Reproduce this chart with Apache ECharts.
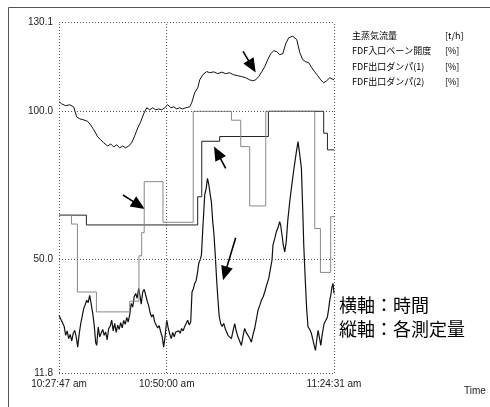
<!DOCTYPE html>
<html>
<head>
<meta charset="utf-8">
<script src="https://cdn.jsdelivr.net/npm/echarts@6/dist/echarts.min.js"></script>
<style>
  html, body { margin: 0; padding: 0; background: #fff; }
  #chart { width: 490px; height: 407px; }
</style>
</head>
<body>
<div id="chart"></div>
<script>
// Time axis: minutes elapsed since 10:27:47
const xTicks = [0, 22.2167, 56.7333];
const xTickLabels = ['10:27:47 am', '10:50:00 am', '11:24:31 am'];
const yTicks = [11.8, 50.0, 100.0, 130.1];
const yTickLabels = ['11.8', '50.0', '100.0', '130.1'];

const seriesNames = ['主蒸気流量', 'FDF入口ベーン開度', 'FDF出口ダンパ(1)', 'FDF出口ダンパ(2)'];
const seriesUnits = ['[t/h]', '[%]', '[%]', '[%]'];

// [minutes, value]
const steamFlow = [
  [0,103.3],[0.56,102.5],[1.38,101.9],[2.21,102.2],[3.03,101.5],[3.65,98.1],[4.27,97.5],[5.1,97.1],
  [5.92,96.6],[6.54,95.4],[7.17,93.8],[7.98,91.4],[8.6,90.4],[9.22,89.4],[10.05,88.3],[10.67,89.0],
  [11.28,88.0],[11.9,88.7],[12.52,87.7],[13.14,88.3],[13.76,87.7],[14.38,88.3],[14.99,89.4],[15.61,91.7],
  [16.24,94.4],[16.86,96.5],[17.48,99.2],[18.1,101.2],[18.71,100.5],[19.33,101.2],[19.95,100.5],[20.57,100.8],
  [21.19,100.5],[21.81,101.2],[22.43,102.2],[23.05,101.2],[23.66,101.5],[24.28,100.8],[24.9,101.2],[25.52,100.8],
  [26.14,101.2],[26.96,101.5],[27.38,102.9],[28.0,106.3],[28.62,107.9],[29.03,110.6],[29.65,112.3],[30.48,113.4],
  [31.1,113.0],[31.92,113.3],[32.75,112.7],[33.57,113.2],[34.4,112.7],[35.22,113.0],[36.04,112.3],[36.87,112.0],
  [37.69,111.7],[38.52,111.3],[39.34,110.6],[39.96,110.3],[40.58,110.6],[41.2,111.7],[41.82,113.3],[42.44,115.0],
  [43.06,117.4],[43.68,119.4],[44.3,120.4],[44.92,120.1],[45.54,119.1],[46.16,119.4],[46.78,122.8],[47.39,124.8],
  [48.22,125.3],[49.05,124.2],[49.67,119.8],[50.28,117.4],[50.9,116.7],[51.52,116.4],[52.14,114.7],[52.76,113.3],
  [53.38,112.0],[54.0,110.6],[54.61,109.6],[55.23,110.3],[55.85,111.3],[56.73,110.6]
];

const inletVane = [
  [0,31.3],[0.35,30.0],[0.76,30.1],[1.07,27.5],[1.38,24.5],[1.69,26.0],[2.0,23.4],[2.31,24.8],[2.62,22.6],
  [2.93,25.1],[3.24,26.2],[3.55,24.0],[3.86,20.5],[4.17,25.0],[4.48,28.4],[4.79,31.0],[5.1,33.5],[5.4,34.8],
  [5.71,36.3],[6.02,35.5],[6.33,38.0],[6.64,35.0],[6.95,32.0],[7.26,28.0],[7.57,22.0],[7.78,21.1],[8.09,27.3],
  [8.4,24.0],[8.71,23.4],[9.02,26.5],[9.32,24.5],[9.63,25.6],[9.94,23.0],[10.25,26.8],[10.56,27.5],[10.87,29.6],
  [11.18,26.0],[11.49,28.5],[11.8,25.5],[12.11,27.9],[12.42,26.5],[12.73,28.8],[13.04,27.0],[13.35,29.5],
  [13.66,28.2],[13.97,30.5],[14.28,29.0],[14.59,31.5],[14.9,35.2],[15.2,34.0],[15.51,37.5],[15.82,38.6],
  [16.13,37.0],[16.44,40.3],[16.75,37.5],[16.96,35.0],[17.27,39.1],[17.58,40.0],[17.89,38.0],[18.2,36.0],
  [18.5,34.5],[18.81,32.0],[19.12,30.7],[19.43,31.5],[19.74,29.0],[20.05,28.4],[20.36,27.0],[20.67,27.8],
  [20.98,25.6],[21.29,24.0],[21.6,20.5],[21.91,24.5],[22.22,29.6],[22.53,27.0],[22.84,25.0],[23.15,23.4],
  [23.46,25.5],[23.77,24.0],[24.07,25.6],[24.38,25.0],[24.69,26.0],[25.0,25.2],[25.31,26.8],[25.62,26.0],
  [25.93,27.5],[26.24,27.0],[26.55,29.6],[26.86,28.0],[27.17,29.0],[27.44,39.1],[27.69,40.0],[28.0,42.0],
  [28.3,43.0],[28.61,46.0],[28.82,48.7],[29.13,50.0],[29.38,51.5],[29.65,60.0],[29.86,66.0],[30.06,71.8],
  [30.37,74.0],[30.62,77.4],[30.89,75.5],[31.19,72.0],[31.44,69.5],[31.71,63.0],[31.98,58.3],[32.22,52.0],
  [32.53,43.0],[32.8,36.3],[33.05,31.0],[33.36,28.4],[33.67,27.5],[33.98,28.5],[34.29,26.8],[34.6,25.5],
  [34.86,24.5],[35.21,24.0],[35.57,23.4],[35.83,25.5],[36.25,28.4],[36.56,26.0],[36.93,23.9],[37.28,22.5],
  [37.63,21.1],[38.0,24.5],[38.31,26.8],[38.62,25.5],[38.99,25.1],[39.34,23.5],[39.69,22.2],[40.06,25.0],
  [40.37,26.8],[40.68,29.5],[41.05,32.9],[41.4,34.5],[41.75,36.3],[42.13,37.5],[42.44,39.1],[42.85,41.5],
  [43.26,43.6],[43.57,46.5],[43.94,49.8],[44.14,54.9],[44.49,57.0],[44.84,59.4],[45.22,61.0],[45.53,62.8],
  [45.74,61.5],[46.01,58.3],[46.26,55.0],[46.57,52.6],[46.88,56.0],[47.19,63.0],[47.6,69.5],[48.01,75.0],
  [48.48,80.8],[48.94,86.0],[49.31,89.8],[49.66,85.5],[50.01,80.8],[50.18,72.0],[50.34,63.9],[50.49,55.0],
  [50.63,49.8],[50.84,42.0],[51.11,33.0],[51.38,27.3],[51.73,26.5],[52.08,25.1],[52.41,22.8],[52.66,21.0],
  [52.91,19.4],[53.18,23.0],[53.45,26.2],[53.7,24.0],[54.01,21.1],[54.32,25.0],[54.69,28.4],[55.03,29.5],
  [55.38,30.7],[55.64,33.5],[55.85,36.3],[56.06,38.0],[56.32,40.8],[56.53,42.0],[56.73,38.6]
];

// Damper positions: value holds until the next change
const damper1 = [
  [0,65.0],[5.65,61.7],[28.61,71.2],[29.45,89.9],[33.15,91.5],[43.2,100.0],[54.61,92.6],[55.38,87.0],[56.73,87.0]
];
const damper2 = [
  [0,65.0],[2.56,62.0],[3.8,39.1],[7.72,32.4],[14.59,36.0],[16.5,51.3],[17.06,59.1],[17.58,76.3],[21.45,62.6],
  [27.69,100.0],[35.57,97.0],[37.49,88.1],[39.34,68.1],[42.65,100.0],[52.76,60.5],[53.93,45.7],[56.05,64.5],[56.73,64.5]
];

// Annotation arrows: [tail minutes, tail value, tip minutes, tip value]
const arrowNotes = [
  [37.96, 120.2, 40.58, 113.1],
  [13.2, 71.8, 17.68, 67.1],
  [34.39, 80.8, 31.98, 88.1],
  [36.45, 57.4, 33.83, 43.1]
];

const noteLines = ['横軸：時間', '縦軸：各測定量'];

const labelFont = 'Liberation Sans, Arial, sans-serif';
const cjkFont = '"Noto Sans CJK JP", sans-serif';

const chart = echarts.init(document.getElementById('chart'), null, { renderer: 'canvas' });

const gridLines = [
  ...yTicks.map(v => ({ yAxis: v })),
  ...xTicks.map(v => ({ xAxis: v }))
];

const baseGraphic = [
  { id: 'frame', type: 'rect', left: 6, top: 5, silent: true,
    shape: { x: 0, y: 0, width: 500, height: 420 },
    style: { fill: 'none', stroke: '#555', lineWidth: 1 } },
  { id: 'note0', type: 'text', left: 339, top: 296,
    style: { text: noteLines[0], font: '18px ' + cjkFont, fill: '#000' } },
  { id: 'note1', type: 'text', left: 339, top: 320,
    style: { text: noteLines[1], font: '18px ' + cjkFont, fill: '#000' } },
  { id: 'timeName', type: 'text', left: 464, top: 386,
    style: { text: 'Time', font: '10px ' + labelFont, fill: '#222' } }
];

function lineSeries(name, data, color, stepped, width, extra) {
  return Object.assign({
    name: name,
    type: 'line',
    data: data,
    step: stepped ? 'end' : false,
    showSymbol: false,
    symbol: 'none',
    lineStyle: { color: color, width: width },
    itemStyle: { color: color },
    animation: false,
    z: 3
  }, extra || {});
}

chart.setOption({
  animation: false,
  backgroundColor: '#fff',
  grid: { left: 59, right: 156, top: 22, bottom: 34, containLabel: false },
  legend: {
    orient: 'vertical',
    left: 341,
    top: 26,
    itemWidth: 0,
    itemHeight: 0,
    itemGap: 6.5,
    selectedMode: false,
    data: seriesNames,
    formatter: name => '{n|' + name + '}{u|' + seriesUnits[seriesNames.indexOf(name)] + '}',
    textStyle: {
      fontFamily: cjkFont,
      fontSize: 9,
      color: '#000',
      rich: {
        n: { width: 93, fontSize: 9, fontFamily: cjkFont, color: '#000' },
        u: { fontSize: 9, fontFamily: cjkFont, color: '#000' }
      }
    }
  },
  xAxis: {
    type: 'value',
    min: 0,
    max: xTicks[2],
    axisLine: { show: false },
    axisTick: { show: false },
    splitLine: { show: false },
    axisLabel: {
      customValues: xTicks,
      margin: 6,
      fontFamily: labelFont,
      fontSize: 10,
      color: '#222',
      formatter: v => {
        let best = 0;
        xTicks.forEach((t, i) => { if (Math.abs(t - v) < Math.abs(xTicks[best] - v)) best = i; });
        return xTickLabels[best];
      }
    }
  },
  yAxis: {
    type: 'value',
    min: yTicks[0],
    max: yTicks[3],
    axisLine: { show: false },
    axisTick: { show: false },
    splitLine: { show: false },
    axisLabel: {
      customValues: yTicks,
      margin: 6,
      fontFamily: labelFont,
      fontSize: 10,
      color: '#222',
      formatter: v => {
        let best = 0;
        yTicks.forEach((t, i) => { if (Math.abs(t - v) < Math.abs(yTicks[best] - v)) best = i; });
        return yTickLabels[best];
      }
    }
  },
  series: [
    lineSeries(seriesNames[0], steamFlow, '#111', false, 1, {
      markLine: {
        silent: true,
        symbol: 'none',
        animation: false,
        label: { show: false },
        lineStyle: { color: '#555', width: 1, type: [1, 2] },
        data: gridLines
      }
    }),
    lineSeries(seriesNames[1], inletVane, '#111', false, 1.2),
    lineSeries(seriesNames[2], damper1, '#222', true, 1),
    lineSeries(seriesNames[3], damper2, '#888', true, 1)
  ],
  graphic: baseGraphic
});

// Arrow annotations placed in data space
const arrowGraphic = arrowNotes.map((a, i) => {
  const t = chart.convertToPixel({ gridIndex: 0 }, [a[0], a[1]]);
  const h = chart.convertToPixel({ gridIndex: 0 }, [a[2], a[3]]);
  const dx = h[0] - t[0], dy = h[1] - t[1];
  const len = Math.sqrt(dx * dx + dy * dy);
  const ux = dx / len, uy = dy / len;
  const headLen = 14, halfW = 6;
  const bx = h[0] - ux * headLen, by = h[1] - uy * headLen;
  return {
    id: 'arrow' + i,
    type: 'group',
    silent: true,
    children: [
      { type: 'line', shape: { x1: t[0], y1: t[1], x2: bx + ux * 2, y2: by + uy * 2 },
        style: { stroke: '#000', lineWidth: 1.6 } },
      { type: 'polygon',
        shape: { points: [[h[0], h[1]], [bx - uy * halfW, by + ux * halfW], [bx + uy * halfW, by - ux * halfW]] },
        style: { fill: '#000' } }
    ]
  };
});

chart.setOption({ graphic: baseGraphic.concat(arrowGraphic) });
</script>
</body>
</html>
